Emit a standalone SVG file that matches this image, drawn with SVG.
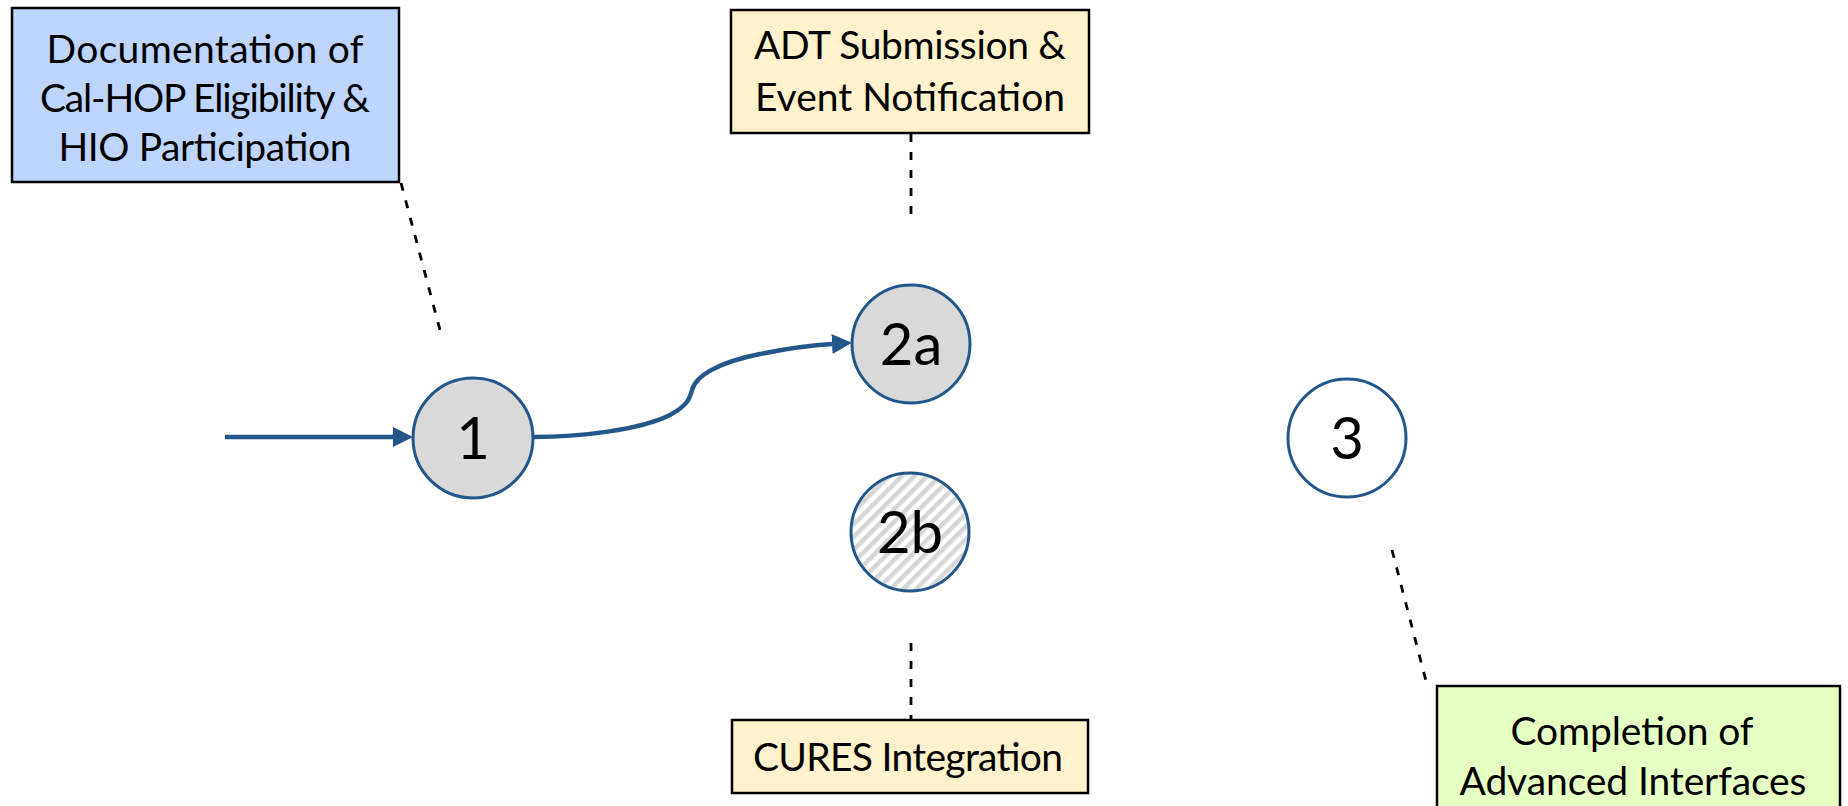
<svg xmlns="http://www.w3.org/2000/svg" width="1848" height="806" viewBox="0 0 1848 806">
<style>
.box{stroke:#000;stroke-width:2.5}
.blue{fill:#BED6FF}
.yellow{fill:#FFF2CC}
.green{fill:#E6FFC2}
.bt{font-family:Lato,"Liberation Sans",sans-serif;font-size:39px;fill:#000;text-anchor:middle}
.node{stroke:#24568A;stroke-width:3}
.gray{fill:#D9D9D9}
.white{fill:#FFFFFF}
.nt{font-family:Lato,"Liberation Sans",sans-serif;font-size:58px;fill:#000;text-anchor:middle}
.dash{stroke:#000;stroke-width:2.8;stroke-dasharray:8 10;fill:none}
.flow{stroke:#24568A;stroke-width:4.5;fill:none}
</style>
<defs>
<marker id="arr" markerUnits="userSpaceOnUse" markerWidth="20" markerHeight="20" refX="0" refY="10" orient="auto" viewBox="0 0 20 20">
<path d="M0,0 L20,10 L0,20 z" fill="#24568A"/>
</marker>
<pattern id="hatch" patternUnits="userSpaceOnUse" width="9" height="9" patternTransform="rotate(45)">
<rect x="0" y="0" width="9" height="9" fill="#FFFFFF"/>
<rect x="0" y="0" width="4.5" height="9" fill="#D6D6D6"/>
</pattern>
</defs>
<g id="connectors">
<line class="flow" x1="225" y1="437" x2="393" y2="437" marker-end="url(#arr)"/>
<path class="flow" d="M533,437 C580,437 640,430 670,415 C688,405 690,398 692,390 C696,375 720,362 760,354 C790,348 815,345 832,344" marker-end="url(#arr)"/>
<line class="dash" x1="401" y1="183" x2="440" y2="330"/>
<line class="dash" x1="911" y1="134" x2="911" y2="215"/>
<line class="dash" x1="911" y1="643" x2="911" y2="719"/>
<line class="dash" x1="1392" y1="550" x2="1426" y2="681"/>
</g>
<g id="box-documentation">
<rect class="box blue" x="12" y="8" width="387" height="174"/>
<text class="bt" x="205" y="63" textLength="317">Documentation of</text>
<text class="bt" x="205" y="112" textLength="330">Cal-HOP Eligibility &amp;</text>
<text class="bt" x="205" y="161" textLength="293">HIO Participation</text>
</g>
<g id="box-adt">
<rect class="box yellow" x="731" y="10" width="358" height="123"/>
<text class="bt" x="910" y="59" textLength="312">ADT Submission &amp;</text>
<text class="bt" x="910" y="111" textLength="310">Event Notification</text>
</g>
<g id="box-cures">
<rect class="box yellow" x="732" y="720" width="356" height="73"/>
<text class="bt" x="908" y="771" textLength="310">CURES Integration</text>
</g>
<g id="box-completion">
<rect class="box green" x="1437" y="686" width="403" height="140"/>
<text class="bt" x="1632" y="745" textLength="243">Completion of</text>
<text class="bt" x="1633" y="795" textLength="347">Advanced Interfaces</text>
</g>
<g id="node-1">
<circle class="node gray" cx="473" cy="438" r="60"/>
<text class="nt" x="473" y="459">1</text>
</g>
<g id="node-2a">
<circle class="node gray" cx="911" cy="344" r="59"/>
<text class="nt" x="911" y="365">2a</text>
</g>
<g id="node-2b">
<circle class="node" fill="url(#hatch)" cx="910" cy="532" r="59"/>
<text class="nt" x="910" y="553">2b</text>
</g>
<g id="node-3">
<circle class="node white" cx="1347" cy="438" r="59"/>
<text class="nt" x="1347" y="459">3</text>
</g>
</svg>
